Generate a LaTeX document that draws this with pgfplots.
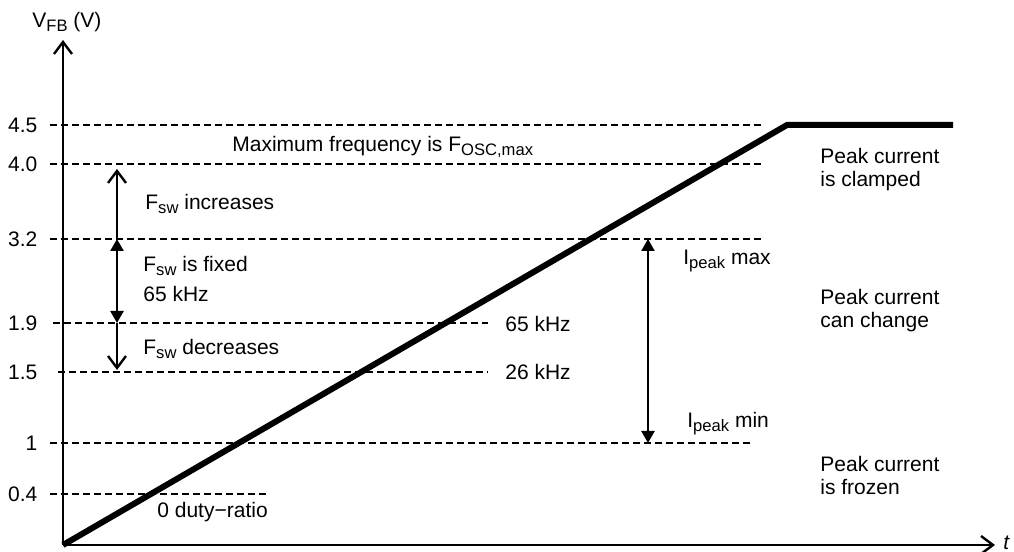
\documentclass[border=0pt]{standalone}
\usepackage{fontspec}
\setmainfont{Liberation Sans}
\usepackage{pgfplots}
\pgfplotsset{compat=1.18}
\usetikzlibrary{arrows.meta}
\newcommand\sub[1]{\raisebox{-1.7pt}{\fontsize{8.3}{10}\selectfont #1}}

\begin{document}
\begin{tikzpicture}[font=\fontsize{10.5}{12}\selectfont]
\begin{axis}[
    x=0.5pt, y=0.5pt,
    xmin=0, xmax=932, ymin=0, ymax=505,
    axis lines=left,
    axis line style={line width=1.2pt, -{Straight Barb[length=6pt,width=9pt,line width=1.2pt]}},
    xtick=\empty,
    ytick={51,102,173,222,306,381,420},
    yticklabels={0.4,1,1.5,1.9,3.2,4.0,4.5},
    ytick style={draw=none},
    yticklabel style={anchor=east, inner sep=0pt, xshift=-10.5pt, font=\fontsize{10.5}{12}\selectfont},
    /pgf/number format/assume math mode=true,
    clip=false,
]
% dashed level lines
\pgfplotsset{lvl/.style={black, line width=1pt, dash pattern=on 3.5pt off 2pt}}
\addplot[lvl] coordinates {(-13,420) (700,420)};
\addplot[lvl] coordinates {(-13,381) (700,381)};
\addplot[lvl] coordinates {(-13,306) (700,306)};
\addplot[lvl] coordinates {(-10,222) (425,222)};
\addplot[lvl] coordinates {(-5,173) (425,173)};
\addplot[lvl] coordinates {(-13,102) (687,102)};
\addplot[lvl] coordinates {(-13,51) (204,51)};

% V_FB ramp
\addplot[black, line width=3pt] coordinates {(0,0) (724,420) (890,420)};

% arrows
\addplot[black, line width=1.2pt, -{Straight Barb[length=6pt,width=9pt,line width=1.2pt]}]
    coordinates {(54,306) (54,376)};
\addplot[black, line width=1.2pt, {Triangle[length=6pt,width=6.5pt]}-{Triangle[length=6pt,width=6.5pt]}]
    coordinates {(54,222) (54,306)};
\addplot[black, line width=1.2pt, -{Straight Barb[length=6pt,width=9pt,line width=1.2pt]}]
    coordinates {(54,222) (54,175)};
\addplot[black, line width=1.2pt, {Triangle[length=6pt,width=6.5pt]}-{Triangle[length=6pt,width=6.5pt]}]
    coordinates {(585,102) (585,306)};

% labels
\node[anchor=base west, inner sep=0pt] at (axis cs:-31,517) {V\sub{FB} (V)};
\node[anchor=base west, inner sep=0pt] at (axis cs:940,-5) {\itshape t};
\node[anchor=base west, inner sep=0pt] at (axis cs:169,393) {Maximum frequency is F\sub{OSC,max}};
\node[anchor=base west, inner sep=0pt] at (axis cs:82,335) {F\sub{sw} increases};
\node[anchor=base west, inner sep=0pt] at (axis cs:80,273) {F\sub{sw} is fixed};
\node[anchor=base west, inner sep=0pt] at (axis cs:80,243) {65 kHz};
\node[anchor=base west, inner sep=0pt] at (axis cs:80,190) {F\sub{sw} decreases};
\node[anchor=base west, inner sep=0pt] at (axis cs:442,213) {65 kHz};
\node[anchor=base west, inner sep=0pt] at (axis cs:442,165) {26 kHz};
\node[anchor=base west, inner sep=0pt] at (axis cs:94,27) {0 duty−ratio};
\node[anchor=base west, inner sep=0pt] at (axis cs:620,280) {I\sub{peak} max};
\node[anchor=base west, inner sep=0pt] at (axis cs:624,117) {I\sub{peak} min};
\node[anchor=base west, inner sep=0pt] at (axis cs:757,381) {Peak current};
\node[anchor=base west, inner sep=0pt] at (axis cs:757,358) {is clamped};
\node[anchor=base west, inner sep=0pt] at (axis cs:757,240) {Peak current};
\node[anchor=base west, inner sep=0pt] at (axis cs:757,217) {can change};
\node[anchor=base west, inner sep=0pt] at (axis cs:757,73) {Peak current};
\node[anchor=base west, inner sep=0pt] at (axis cs:757,50) {is frozen};

\coordinate (bl) at (axis cs:-63,-7);
\coordinate (tr) at (axis cs:951,545);
\end{axis}
\pgfresetboundingbox
\path (bl) rectangle (tr);
\end{tikzpicture}
\end{document}
